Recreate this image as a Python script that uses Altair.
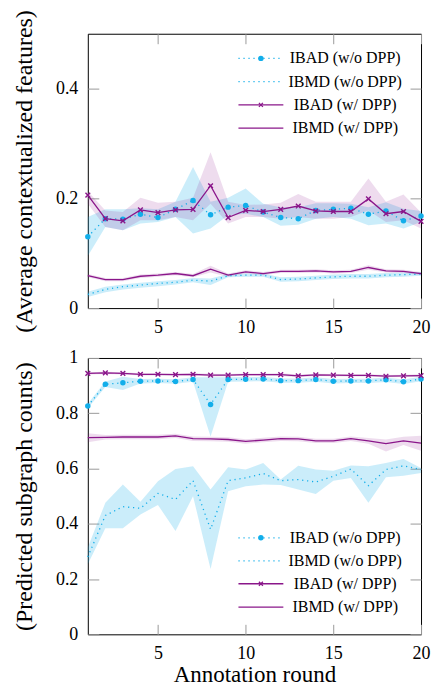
import altair as alt
import pandas as pd

rounds = list(range(1, 21))
x_ticks = [5, 10, 15, 20]
labels = ["IBAD (w/o DPP)", "IBMD (w/o DPP)", "IBAD (w/ DPP)", "IBMD (w/ DPP)"]

# ---------- top panel: average contextualized features ----------
feat_ibad_wo = [0.130, 0.163, 0.162, 0.171, 0.165, 0.180, 0.196, 0.170, 0.184, 0.187,
                0.175, 0.165, 0.163, 0.178, 0.180, 0.182, 0.171, 0.177, 0.159, 0.168]
feat_ibad_wo_lo = [0.095, 0.148, 0.142, 0.154, 0.157, 0.166, 0.136, 0.145, 0.169, 0.172,
                   0.166, 0.150, 0.152, 0.163, 0.166, 0.163, 0.151, 0.154, 0.145, 0.157]
feat_ibad_wo_hi = [0.166, 0.180, 0.180, 0.182, 0.180, 0.194, 0.257, 0.194, 0.201, 0.218,
                   0.190, 0.184, 0.184, 0.191, 0.191, 0.190, 0.184, 0.193, 0.181, 0.177]

feat_ibmd_wo = [0.025, 0.034, 0.039, 0.042, 0.045, 0.047, 0.051, 0.049, 0.059, 0.060,
                0.060, 0.052, 0.053, 0.055, 0.057, 0.058, 0.058, 0.060, 0.061, 0.062]
feat_ibmd_wo_lo = [0.020, 0.029, 0.034, 0.037, 0.040, 0.043, 0.047, 0.042, 0.056, 0.057,
                   0.057, 0.048, 0.049, 0.051, 0.053, 0.054, 0.054, 0.056, 0.057, 0.059]
feat_ibmd_wo_hi = [0.030, 0.039, 0.043, 0.046, 0.049, 0.051, 0.055, 0.054, 0.062, 0.063,
                   0.063, 0.056, 0.057, 0.059, 0.061, 0.062, 0.062, 0.064, 0.065, 0.066]

feat_ibad_w = [0.206, 0.163, 0.159, 0.179, 0.174, 0.179, 0.180, 0.223, 0.165, 0.178,
               0.176, 0.180, 0.186, 0.177, 0.176, 0.176, 0.199, 0.172, 0.176, 0.158]
feat_ibad_w_lo = [0.190, 0.148, 0.142, 0.160, 0.160, 0.166, 0.160, 0.190, 0.154, 0.166,
                  0.166, 0.163, 0.166, 0.163, 0.163, 0.166, 0.178, 0.157, 0.160, 0.145]
feat_ibad_w_hi = [0.213, 0.178, 0.175, 0.201, 0.192, 0.194, 0.201, 0.284, 0.194, 0.188,
                  0.189, 0.192, 0.208, 0.194, 0.194, 0.194, 0.236, 0.194, 0.207, 0.174]

feat_ibmd_w = [0.059, 0.052, 0.052, 0.058, 0.060, 0.063, 0.059, 0.071, 0.060, 0.066,
               0.063, 0.067, 0.067, 0.068, 0.066, 0.067, 0.074, 0.068, 0.067, 0.063]
feat_ibmd_w_lo = [0.056, 0.049, 0.049, 0.055, 0.057, 0.060, 0.056, 0.065, 0.057, 0.063,
                  0.060, 0.064, 0.064, 0.065, 0.063, 0.064, 0.070, 0.065, 0.064, 0.060]
feat_ibmd_w_hi = [0.062, 0.055, 0.055, 0.061, 0.063, 0.066, 0.062, 0.077, 0.063, 0.069,
                  0.066, 0.070, 0.070, 0.071, 0.069, 0.070, 0.078, 0.071, 0.070, 0.066]

# ---------- bottom panel: predicted subgraph counts ----------
cnt_ibad_wo = [0.826, 0.905, 0.910, 0.916, 0.917, 0.915, 0.922, 0.832, 0.922, 0.923,
               0.924, 0.918, 0.918, 0.922, 0.916, 0.917, 0.917, 0.921, 0.914, 0.924]
cnt_ibad_wo_lo = [0.818, 0.895, 0.884, 0.908, 0.909, 0.907, 0.914, 0.716, 0.914, 0.915,
                  0.916, 0.910, 0.910, 0.914, 0.908, 0.909, 0.909, 0.913, 0.906, 0.916]
cnt_ibad_wo_hi = [0.834, 0.915, 0.932, 0.924, 0.925, 0.923, 0.930, 0.930, 0.930, 0.931,
                  0.932, 0.926, 0.926, 0.930, 0.924, 0.925, 0.925, 0.929, 0.922, 0.932]

cnt_ibmd_wo = [0.280, 0.430, 0.462, 0.456, 0.510, 0.488, 0.556, 0.380, 0.556, 0.566,
               0.582, 0.556, 0.560, 0.551, 0.572, 0.598, 0.538, 0.596, 0.610, 0.596]
cnt_ibmd_wo_lo = [0.254, 0.384, 0.384, 0.434, 0.468, 0.374, 0.500, 0.236, 0.518, 0.536,
                  0.542, 0.540, 0.524, 0.508, 0.556, 0.566, 0.476, 0.568, 0.574, 0.584]
cnt_ibmd_wo_hi = [0.314, 0.476, 0.542, 0.480, 0.554, 0.598, 0.608, 0.524, 0.605, 0.596,
                  0.620, 0.560, 0.610, 0.596, 0.592, 0.611, 0.608, 0.620, 0.634, 0.602]

cnt_ibad_w = [0.944, 0.946, 0.944, 0.941, 0.941, 0.940, 0.941, 0.938, 0.938, 0.940,
              0.940, 0.940, 0.935, 0.939, 0.938, 0.937, 0.937, 0.934, 0.935, 0.936]
cnt_ibad_w_lo = [0.940, 0.942, 0.940, 0.937, 0.937, 0.936, 0.937, 0.933, 0.934, 0.936,
                 0.936, 0.935, 0.930, 0.935, 0.934, 0.933, 0.933, 0.930, 0.931, 0.931]
cnt_ibad_w_hi = [0.948, 0.950, 0.948, 0.945, 0.945, 0.944, 0.945, 0.943, 0.942, 0.944,
                 0.944, 0.945, 0.940, 0.943, 0.942, 0.941, 0.941, 0.938, 0.939, 0.941]

cnt_ibmd_w = [0.712, 0.713, 0.714, 0.714, 0.714, 0.718, 0.708, 0.707, 0.705, 0.698,
              0.703, 0.708, 0.707, 0.700, 0.700, 0.708, 0.700, 0.690, 0.700, 0.692]
cnt_ibmd_w_lo = [0.695, 0.705, 0.706, 0.706, 0.706, 0.710, 0.700, 0.699, 0.697, 0.690,
                 0.695, 0.700, 0.699, 0.692, 0.692, 0.700, 0.690, 0.662, 0.685, 0.664]
cnt_ibmd_w_hi = [0.728, 0.721, 0.722, 0.722, 0.722, 0.726, 0.716, 0.715, 0.713, 0.706,
                 0.711, 0.716, 0.715, 0.708, 0.708, 0.716, 0.710, 0.705, 0.715, 0.719]

CYAN = "#12aeea"
PURPLE = "#8a168a"
W = 334
H1 = 275
H2 = 277
FONT = "Liberation Serif"
DOT = [1.2, 3.8]


def make_panel(series, ymax, yvals, ytitle, xtitle, height, leg_rows, label_expr, anchor):
    xs = alt.Scale(domain=[1, 20], nice=False, zero=False)
    ys = alt.Scale(domain=[0, ymax], nice=False, zero=False)
    frames = [pd.DataFrame({"round": rounds, "m": s[0], "lo": s[1], "hi": s[2]}) for s in series]
    layers = []

    # bands; first two carry the axes (left/bottom and right/top)
    band_colors = [CYAN, CYAN, PURPLE, PURPLE]
    band_op = [0.22, 0.22, 0.15, 0.15]
    for i, df in enumerate(frames):
        if i == 0:
            xkw = dict(orient="bottom", values=x_ticks, offset=-10, tickSize=10,
                       labelPadding=10, labelFlush=False, grid=False, domain=False,
                       tickColor="#9a9a9a", minExtent=0)
            if xtitle:
                xkw.update(title=xtitle, titleY=57, titleBaseline="alphabetic", titleFontSize=23)
            else:
                xkw.update(title=None)
            xax = alt.Axis(**xkw)
            yax = alt.Axis(orient="left", values=yvals, offset=-11, tickSize=11,
                           labelPadding=10, labelFlush=False, grid=False, domain=False,
                           tickColor="#9a9a9a", minExtent=0,
                           labelExpr=label_expr, title=ytitle, titleX=-74.5,
                           titleY=height / 2, titleAngle=270, titleAlign="center",
                           titleBaseline="middle")
        elif i == 1:
            xax = alt.Axis(orient="top", values=x_ticks, offset=-10, tickSize=10,
                           labels=False, grid=False, domain=False, tickColor="#9a9a9a",
                           minExtent=0, title=None)
            yax = alt.Axis(orient="right", values=yvals, offset=-11, tickSize=11,
                           labels=False, grid=False, domain=False, tickColor="#9a9a9a",
                           minExtent=0, title=None)
        else:
            xax = None
            yax = None
        layers.append(
            alt.Chart(df).mark_area(color=band_colors[i], opacity=band_op[i]).encode(
                x=alt.X("round:Q", scale=xs, axis=xax),
                y=alt.Y("lo:Q", scale=ys, axis=yax),
                y2="hi:Q",
            )
        )

    # lines: IBMD w/o, IBMD w/, IBAD w/o, IBAD w/
    order = [1, 3, 0, 2]
    for i in order:
        df = frames[i]
        color = CYAN if i < 2 else PURPLE
        kw = dict(color=color, strokeWidth=1.3)
        if i < 2:
            kw["strokeDash"] = DOT
        layers.append(
            alt.Chart(df).mark_line(**kw).encode(
                x=alt.X("round:Q", scale=xs, axis=None),
                y=alt.Y("m:Q", scale=ys, axis=None),
            )
        )
        if i == 0:
            layers.append(
                alt.Chart(df).mark_point(filled=True, size=30, color=CYAN, opacity=1).encode(
                    x=alt.X("round:Q", scale=xs, axis=None),
                    y=alt.Y("m:Q", scale=ys, axis=None),
                )
            )
        if i == 2:
            layers.append(
                alt.Chart(df).mark_point(shape="M-1,-1L1,1M-1,1L1,-1", filled=False, size=22,
                                         strokeWidth=1.4, color=PURPLE, opacity=1).encode(
                    x=alt.X("round:Q", scale=xs, axis=None),
                    y=alt.Y("m:Q", scale=ys, axis=None),
                )
            )

    # legend
    for i, lab in enumerate(labels):
        d = pd.DataFrame({"label": [lab]})
        yy = leg_rows[i]
        color = CYAN if i < 2 else PURPLE
        kw = dict(color=color, strokeWidth=1.3)
        if i < 2:
            kw["strokeDash"] = DOT
        layers.append(alt.Chart(d).mark_rule(**kw).encode(
            x=alt.value(151), x2=alt.value(196), y=alt.value(yy)))
        if i == 0:
            layers.append(alt.Chart(d).mark_point(filled=True, size=30, color=CYAN, opacity=1).encode(
                x=alt.value(173.5), y=alt.value(yy)))
        if i == 2:
            layers.append(alt.Chart(d).mark_point(shape="M-1,-1L1,1M-1,1L1,-1", filled=False,
                                                  size=16, strokeWidth=1.3, color=PURPLE,
                                                  opacity=1).encode(
                x=alt.value(173.5), y=alt.value(yy)))
        layers.append(alt.Chart(d).mark_text(font=FONT, fontSize=16, align="center",
                                             baseline="middle", color="black").encode(
            x=alt.value(258), y=alt.value(yy), text="label:N"))

    # invisible layout anchor (pins the outer bounds of the figure)
    ad = pd.DataFrame({"k": [0]})
    layers.append(alt.Chart(ad).mark_rule(color="white", strokeWidth=0.5).encode(
        x=alt.value(anchor[0]), x2=alt.value(anchor[0] + 1), y=alt.value(anchor[1])))

    return alt.layer(*layers).resolve_axis(x="independent", y="independent").properties(
        width=W, height=height)


top = make_panel(
    [(feat_ibad_wo, feat_ibad_wo_lo, feat_ibad_wo_hi),
     (feat_ibmd_wo, feat_ibmd_wo_lo, feat_ibmd_wo_hi),
     (feat_ibad_w, feat_ibad_w_lo, feat_ibad_w_hi),
     (feat_ibmd_w, feat_ibmd_w_lo, feat_ibmd_w_hi)],
    0.5, [0, 0.2, 0.4], "(Average contextualized features)", None, H1,
    [24.7, 48.0, 71.3, 94.7],
    "datum.value == 0 ? '0' : format(datum.value, '.1f')",
    (-80, -40),
)

bottom = make_panel(
    [(cnt_ibad_wo, cnt_ibad_wo_lo, cnt_ibad_wo_hi),
     (cnt_ibmd_wo, cnt_ibmd_wo_lo, cnt_ibmd_wo_hi),
     (cnt_ibad_w, cnt_ibad_w_lo, cnt_ibad_w_hi),
     (cnt_ibmd_w, cnt_ibmd_w_lo, cnt_ibmd_w_hi)],
    1.0, [0, 0.2, 0.4, 0.6, 0.8, 1.0], "(Predicted subgraph counts)", "Annotation round", H2,
    [180.3, 203.3, 226.3, 249.7],
    "datum.value == 0 ? '0' : datum.value == 1 ? '1' : format(datum.value, '.1f')",
    (W + 9, H2 + 80),
)

chart = alt.vconcat(top, bottom, spacing=50, bounds="flush").properties(
    padding={"left": -1, "top": -16, "right": -1, "bottom": -30}
).configure_view(stroke="black", strokeWidth=1).configure_axis(
    labelFont=FONT, labelFontSize=18, labelColor="black",
    titleFont=FONT, titleFontSize=24, titleFontWeight="normal", titleColor="black",
)

chart.save("out.html", embed_options={"renderer": "svg", "actions": False})
